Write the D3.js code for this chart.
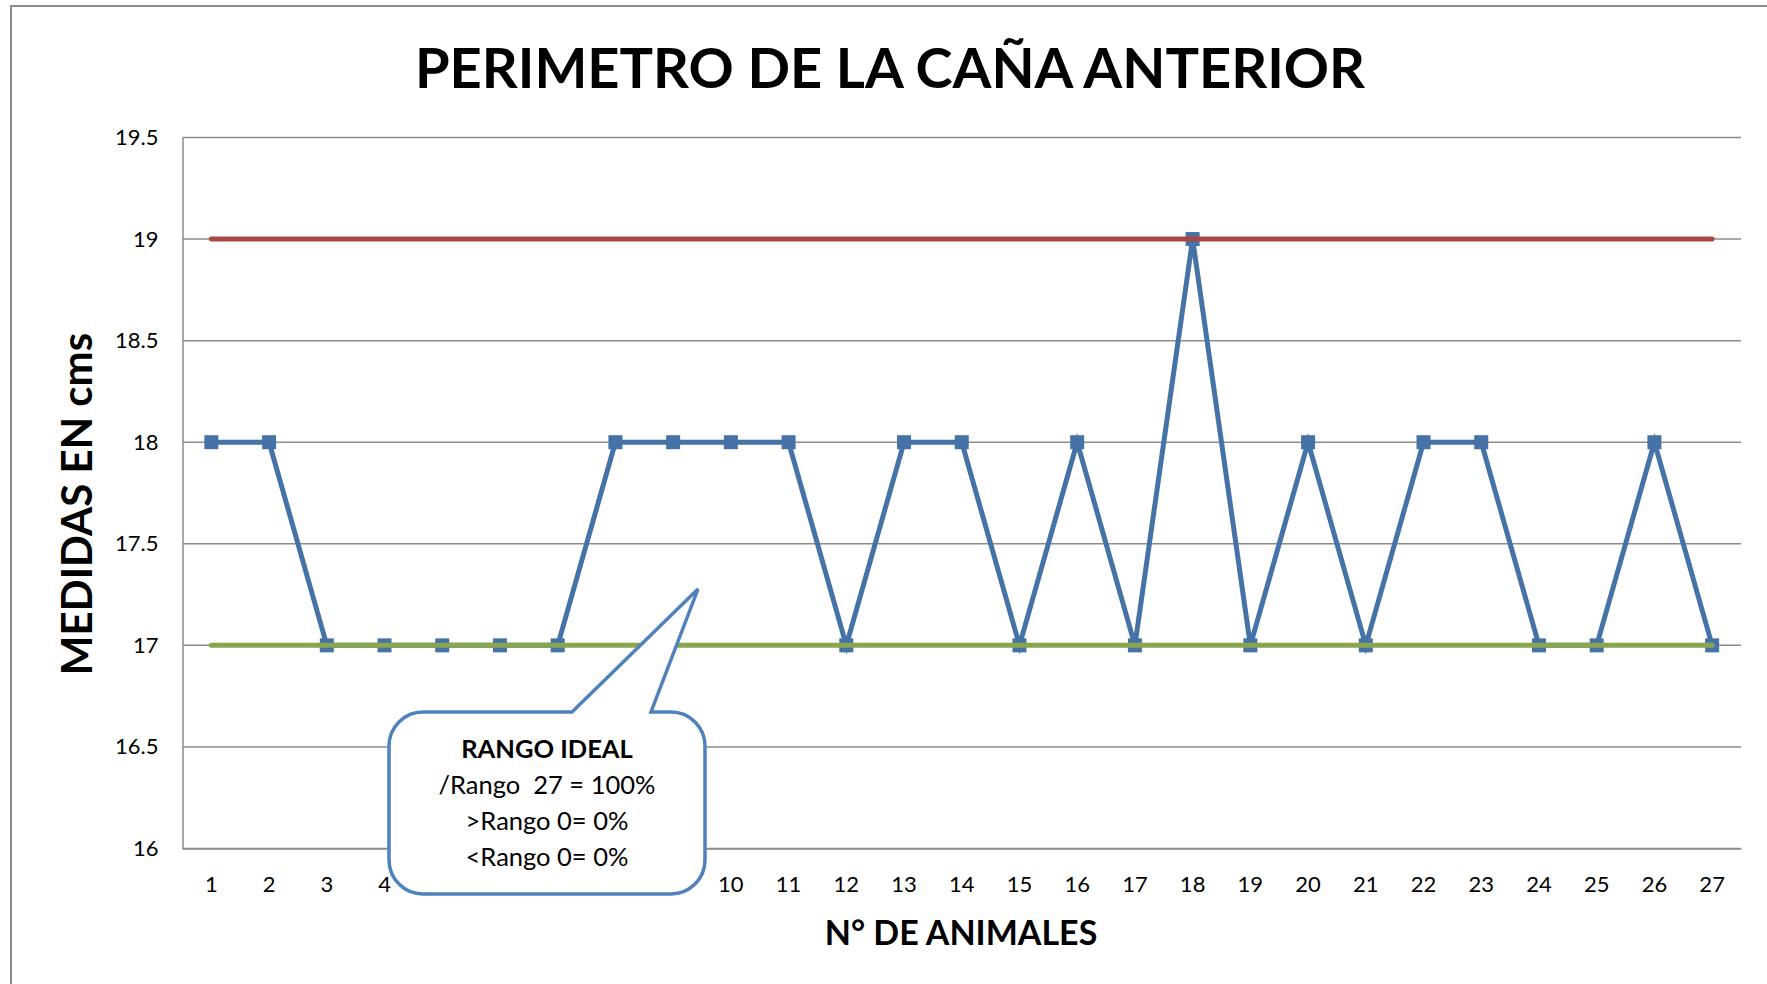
<!DOCTYPE html>
<html>
<head>
<meta charset="utf-8">
<script src="https://cdn.jsdelivr.net/npm/d3@7"></script>
<style>
  body { margin: 0; background: #fff; }
  svg { display: block; font-family: Lato, "Open Sans", sans-serif; }
</style>
</head>
<body>
<div class="chart"></div>
<script>
// data
const animals = d3.range(1, 28).map(String);
const medidas = [18, 18, 17, 17, 17, 17, 17, 18, 18, 18, 18, 17, 18, 18, 17, 18, 17, 19, 17, 18, 17, 18, 18, 17, 17, 18, 17];
const limiteSup = 19;
const limiteInf = 17;
const yTicks = [16, 16.5, 17, 17.5, 18, 18.5, 19, 19.5];
const notaLines = ['RANGO IDEAL', '/Rango  27 = 100%', '>Rango 0= 0%', '<Rango 0= 0%'];

const width = 1767, height = 984;
const margin = { top: 137.5, right: 26, bottom: 135.5, left: 182.5 };

const svg = d3.select('.chart')
  .append('svg')
  .attr('width', width)
  .attr('height', height);

// outer chart frame (only top/left visible in the picture)
svg.append('rect')
  .attr('x', 11).attr('y', 6)
  .attr('width', width + 20).attr('height', height + 20)
  .attr('fill', 'none')
  .attr('stroke', '#8c8c8c')
  .attr('stroke-width', 2);

const x = d3.scaleBand()
  .domain(animals)
  .range([margin.left, width - margin.right]);

const y = d3.scaleLinear()
  .domain([16, 19.5])
  .range([height - margin.bottom, margin.top]);

const cx = d => x(d) + x.bandwidth() / 2;

// gridlines
svg.append('g')
  .selectAll('line')
  .data(yTicks)
  .join('line')
  .attr('x1', margin.left).attr('x2', width - margin.right)
  .attr('y1', d => y(d)).attr('y2', d => y(d))
  .attr('stroke', '#8c8c8c')
  .attr('stroke-width', 1.5);

// y axis
const yAxis = svg.append('g')
  .attr('transform', `translate(${margin.left},0)`)
  .call(d3.axisLeft(y).tickValues(yTicks).tickSize(0).tickPadding(24).tickFormat(d3.format('')));
yAxis.select('.domain').attr('stroke', '#8c8c8c').attr('stroke-width', 1.5);
yAxis.selectAll('text').attr('font-size', 22).attr('fill', '#000').attr('font-family', 'Lato, sans-serif');

// x axis
const xAxis = svg.append('g')
  .attr('transform', `translate(0,${height - margin.bottom})`)
  .call(d3.axisBottom(x).tickSize(0).tickPadding(28));
xAxis.select('.domain').attr('stroke', '#8c8c8c').attr('stroke-width', 1.5);
xAxis.selectAll('text').attr('font-size', 22).attr('fill', '#000').attr('font-family', 'Lato, sans-serif');

// series
const line = d3.line()
  .x((d, i) => cx(animals[i]))
  .y(d => y(d));

svg.append('path')
  .datum(medidas)
  .attr('d', line)
  .attr('fill', 'none')
  .attr('stroke', '#4572A7')
  .attr('stroke-width', 5)
  .attr('stroke-linejoin', 'miter');

const ms = 14;
svg.append('g')
  .selectAll('rect')
  .data(medidas)
  .join('rect')
  .attr('x', (d, i) => cx(animals[i]) - ms / 2)
  .attr('y', d => y(d) - ms / 2)
  .attr('width', ms).attr('height', ms)
  .attr('fill', '#4572A7');

// limit lines
[[limiteSup, '#AA4643'], [limiteInf, '#89A54E']].forEach(([v, c]) => {
  svg.append('path')
    .datum(animals.map(() => v))
    .attr('d', line)
    .attr('fill', 'none')
    .attr('stroke', c)
    .attr('stroke-width', 5)
    .attr('stroke-linecap', 'round');
});

// callout
const bx0 = 389, bx1 = 705, by0 = 712, by1 = 894, r = 34;
const tip = [698, 589], b0 = 572, b1 = 651;
const p = d3.path();
p.moveTo(bx0 + r, by0);
p.lineTo(b0, by0);
p.lineTo(tip[0], tip[1]);
p.lineTo(b1, by0);
p.lineTo(bx1 - r, by0);
p.arcTo(bx1, by0, bx1, by0 + r, r);
p.lineTo(bx1, by1 - r);
p.arcTo(bx1, by1, bx1 - r, by1, r);
p.lineTo(bx0 + r, by1);
p.arcTo(bx0, by1, bx0, by1 - r, r);
p.lineTo(bx0, by0 + r);
p.arcTo(bx0, by0, bx0 + r, by0, r);
p.closePath();
svg.append('path')
  .attr('d', p.toString())
  .attr('fill', '#fff')
  .attr('stroke', '#4F81BD')
  .attr('stroke-width', 3.5)
  .attr('stroke-linejoin', 'miter');

svg.append('g')
  .selectAll('text')
  .data(notaLines)
  .join('text')
  .attr('x', (bx0 + bx1) / 2)
  .attr('y', (d, i) => 758 + i * 36)
  .attr('text-anchor', 'middle')
  .attr('font-size', 25.5)
  .attr('font-weight', (d, i) => i === 0 ? 'bold' : 'normal')
  .style('white-space', 'pre')
  .text(d => d);

// titles
svg.append('text')
  .attr('x', 890).attr('y', 88)
  .attr('text-anchor', 'middle')
  .attr('font-size', 56)
  .attr('font-weight', 'bold')
  .text('PERIMETRO DE LA CAÑA ANTERIOR');

svg.append('text')
  .attr('x', 961).attr('y', 945)
  .attr('text-anchor', 'middle')
  .attr('font-size', 34)
  .attr('font-weight', 'bold')
  .text('N° DE ANIMALES');

svg.append('text')
  .attr('transform', 'translate(92,504) rotate(-90)')
  .attr('text-anchor', 'middle')
  .attr('font-size', 42)
  .attr('font-weight', 'bold')
  .text('MEDIDAS EN cms');
</script>
</body>
</html>
